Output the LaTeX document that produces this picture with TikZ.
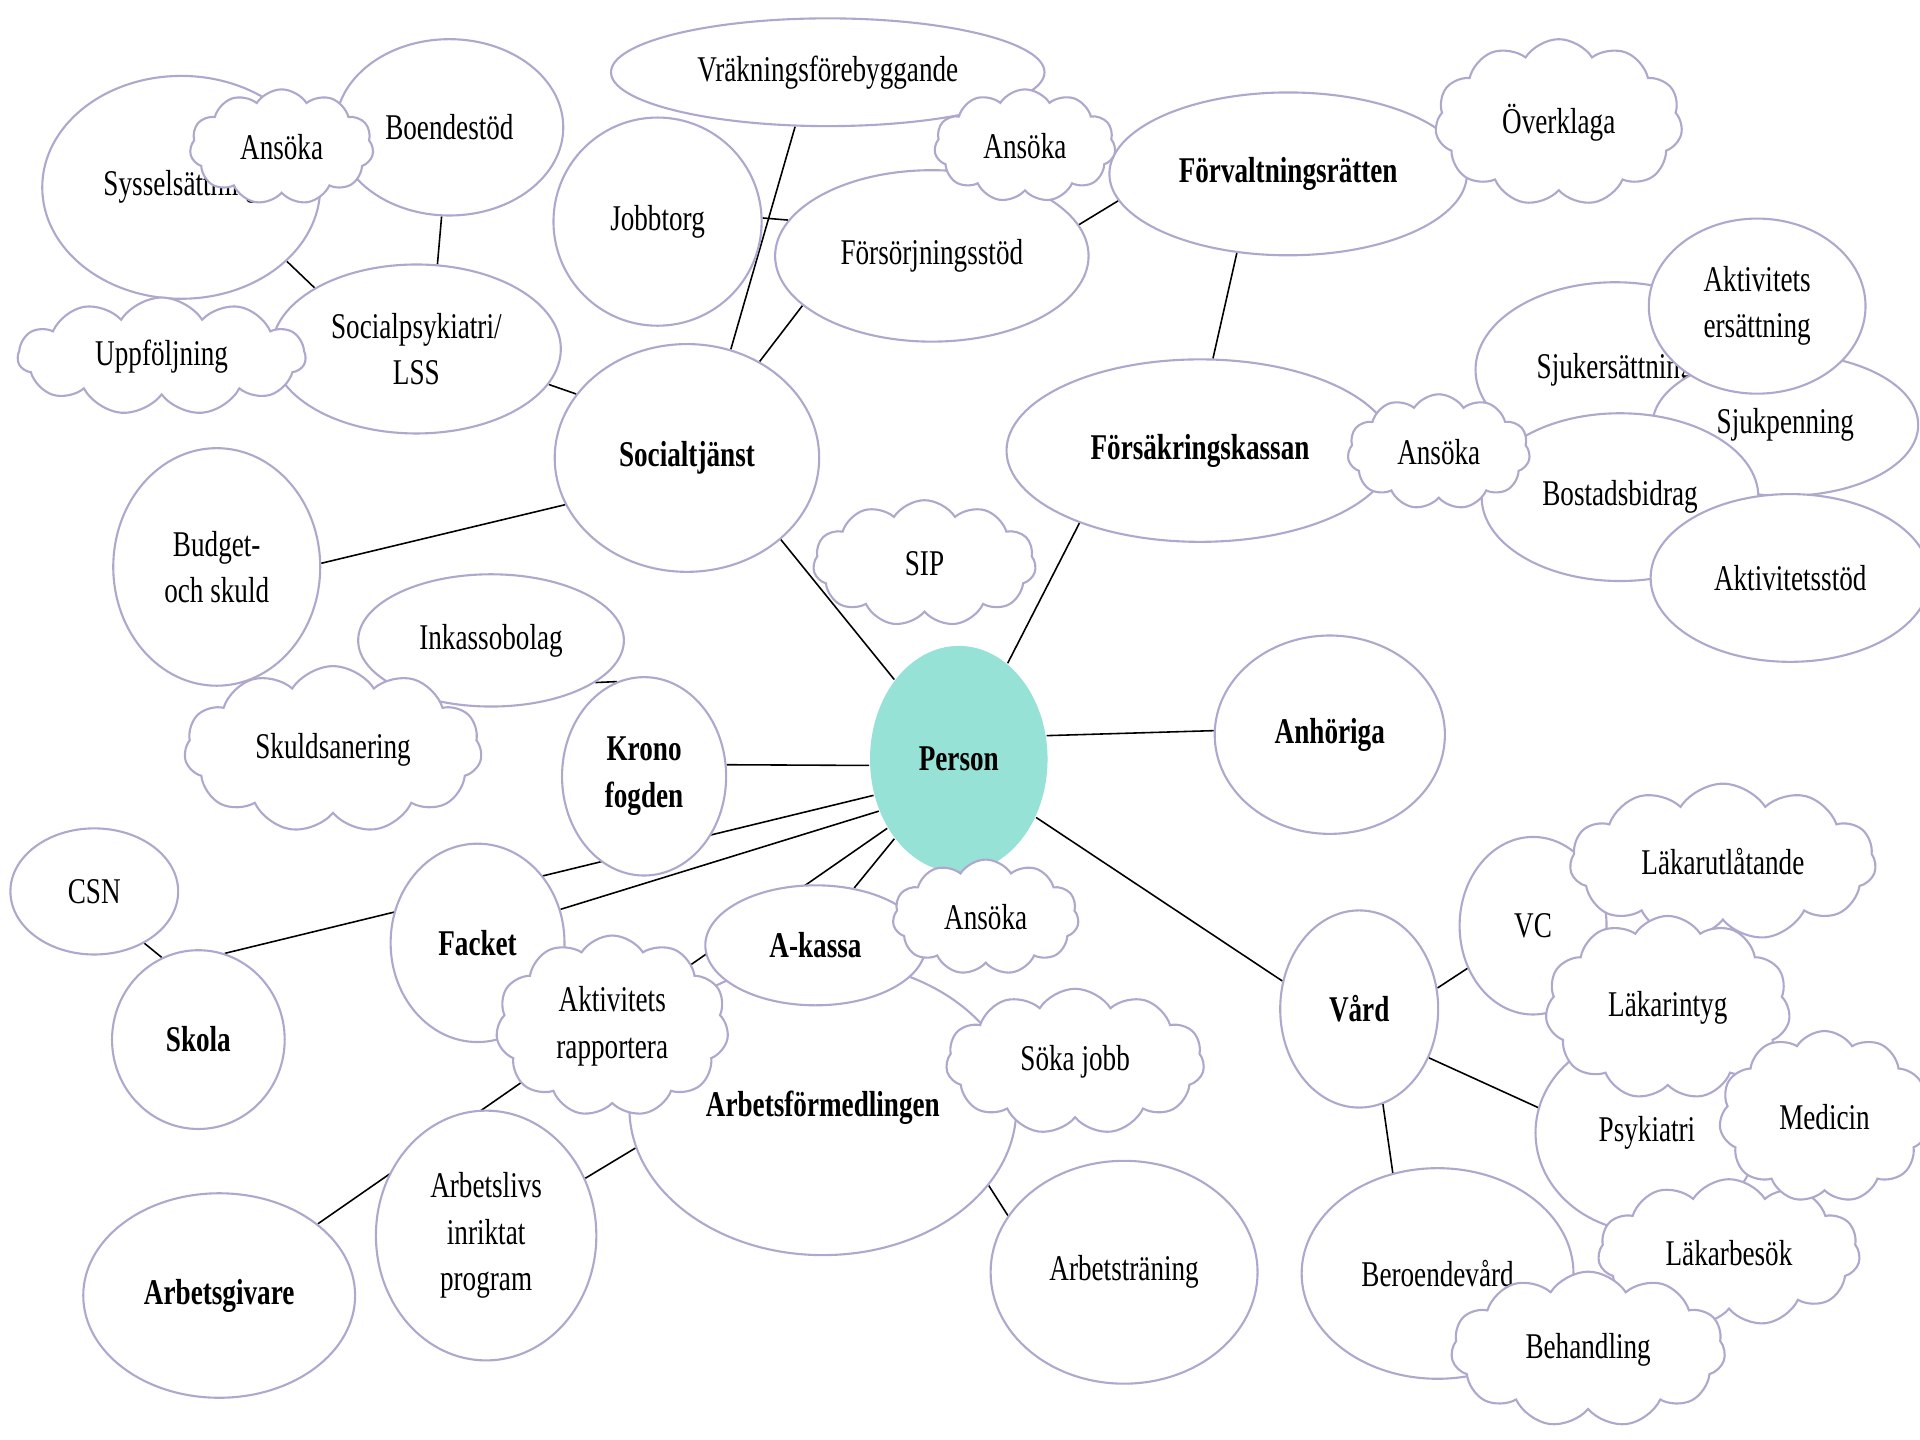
\documentclass[tikz,border=0pt]{standalone}
\usepackage{fontspec}
\setmainfont{Liberation Serif}[FakeStretch=0.75]
\usetikzlibrary{shapes.geometric,shapes.symbols,backgrounds}
\definecolor{rim}{RGB}{176,168,204}
\definecolor{personfill}{RGB}{150,226,214}

\begin{document}
\begin{tikzpicture}[x=0.012245cm, y=-0.012245cm,
        every node/.style={font=\fontsize{10.3}{13.2}\selectfont, align=center, inner sep=0pt},
        bubble/.style 2 args={ellipse, draw=rim, line width=0.6pt, fill=white,
            minimum width=#1*0.012245cm, minimum height=#2*0.012245cm},
        puff/.style 2 args={cloud, cloud puffs=11, cloud puff arc=115, draw=rim, line width=0.6pt,
            fill=white, /utils/exec={\pgfmathsetmacro\puffaspect{#1/#2}}, aspect=\puffaspect,
            minimum width=#1*0.012245cm, minimum height=#2*0.012245cm},
        boldtext/.style={font=\fontsize{10.3}{13.2}\selectfont\bfseries},
        link/.style={draw=black, line width=0.45pt}]
        \useasboundingbox (0,0) rectangle (1568,1176);

        \node[bubble={227}{182}] (syss) at (148,153) {Sysselsättning};
        \node[bubble={186}{144}] (boende) at (367,104) {Boendestöd};
        \node[puff={150}{94}] (ansoka1) at (230,120) {Ansöka};
        \node[bubble={236}{138}] (socpsyk) at (340,285) {Socialpsykiatri/\\LSS};
        \node[puff={235}{96}] (uppf) at (132,291) {Uppföljning};

        \node[bubble={354}{88}] (vrak) at (676,59) {Vräkningsförebyggande};
        \node[bubble={170}{170}] (jobb) at (537,181) {Jobbtorg};
        \node[bubble={256}{140}] (forsorj) at (761,209) {Försörjningsstöd};
        \node[bubble={292}{133}, boldtext] (forvalt) at (1052,142) {Förvaltningsrätten};
        \node[puff={148}{92}] (ansoka2) at (837,119) {Ansöka};
        \node[puff={202}{136}] (overkl) at (1273,100) {Överklaga};

        \node[bubble={216}{186}, boldtext] (soc) at (561,374) {Socialtjänst};
        \node[bubble={169}{194}] (budget) at (177,463) {Budget-\\och skuld};
        \node[puff={182}{103}] (sip) at (755,460) {SIP};

        \node[bubble={316}{149}, boldtext] (fk) at (980,368) {Försäkringskassan};
        \node[bubble={228}{143}] (sjukers) at (1319,302) {Sjukersättning};
        \node[bubble={217}{116}] (sjukpen) at (1458,347) {Sjukpenning};
        \node[bubble={177}{143}] (akters) at (1435,250) {Aktivitets\\ersättning};
        \node[bubble={226}{137}] (bostad) at (1323,406) {Bostadsbidrag};
        \node[bubble={228}{137}] (aktstod) at (1462,472) {Aktivitetsstöd};
        \node[puff={149}{94}] (ansoka3) at (1175,369) {Ansöka};

        \node[bubble={145}{185}, boldtext, draw=none, fill=personfill] (person) at (783,620) {Person};
        \node[bubble={188}{162}, boldtext] (anhor) at (1086,600) {Anhöriga};

        \node[bubble={217}{108}] (inkasso) at (401,523) {Inkassobolag};
        \node[puff={243}{136}] (skuld) at (272,612) {Skuldsanering};
        \node[bubble={134}{162}, boldtext] (krono) at (526,634) {Krono\\fogden};

        \node[bubble={137}{103}] (csn) at (77,728) {CSN};
        \node[bubble={141}{146}, boldtext] (skola) at (162,849) {Skola};
        \node[bubble={142}{162}, boldtext] (facket) at (390,770) {Facket};
        \node[bubble={316}{240}, boldtext] (arbf) at (672,905) {Arbetsförmedlingen};
        \node[puff={190}{148}] (aktrapp) at (500,838) {Aktivitets\\rapportera};
        \node[bubble={180}{98}, boldtext] (akassa) at (666,772) {A-kassa};
        \node[puff={152}{94}] (ansoka4) at (805,749) {Ansöka};
        \node[puff={211}{119}] (soka) at (878,867) {Söka jobb};
        \node[bubble={180}{204}] (arbliv) at (397,1009) {Arbetslivs\\inriktat\\program};
        \node[bubble={222}{167}, boldtext] (arbgiv) at (179,1058) {Arbetsgivare};
        \node[bubble={218}{182}] (arbtr) at (918,1039) {Arbetsträning};

        \node[bubble={129}{161}, boldtext] (vard) at (1110,824) {Vård};
        \node[bubble={120}{145}] (vc) at (1252,756) {VC};
        \node[puff={250}{128}] (lakutl) at (1407,704) {Läkarutlåtande};
        \node[bubble={182}{162}] (psyk) at (1345,925) {Psykiatri};
        \node[puff={200}{150}] (lakint) at (1362,823) {Läkarintyg};
        \node[puff={214}{120}] (lakbes) at (1412,1023) {Läkarbesök};
        \node[puff={172}{140}] (medicin) at (1490,912) {Medicin};
        \node[bubble={222}{172}] (beroende) at (1174,1040) {Beroendevård};
        \node[puff={224}{127}] (behandl) at (1297,1102) {Behandling};

        \begin{pgfonlayer}{background}
            \fill[white] (0,0) rectangle (1568,1176);
            \draw[link] (syss.325) -- (socpsyk.149);
            \draw[link] (boende.265) -- (socpsyk.76);
            \draw[link] (socpsyk.345) -- (soc.150);
            \draw[link] (vrak.239) -- (soc.68);
            \draw[link] (jobb.2) -- (forsorj.166);
            \draw[link] (forsorj.201) -- (soc.53);
            \draw[link] (forsorj.12) -- (forvalt.189);
            \draw[link] (forvalt.237) -- (fk.82);
            \draw[link] (budget.2) -- (soc.201);
            \draw[link] (soc.319) -- (person.129);
            \draw[link] (fk.211) -- (person.63);
            \draw[link] (person.15) -- (anhor.178);
            \draw[link] (inkasso.338) -- (krono.106);
            \draw[link] (krono.8) -- (person.184);
            \draw[link] (person.203) -- (skola.73);
            \draw[link] (person.213) -- (facket.22);
            \draw[link] (person.224) -- (arbgiv.36);
            \draw[link] (person.231) -- (akassa.56);
            \draw[link] (csn.314) -- (skola.114);
            \draw[link] (arbliv.30) -- (arbf.192);
            \draw[link] (arbf.335) -- (arbtr.154);
            \draw[link] (person.323) -- (vard.160);
            \draw[link] (vard.15) -- (vc.213);
            \draw[link] (vard.325) -- (psyk.167);
            \draw[link] (vard.284) -- (beroende.114);
        \end{pgfonlayer}
    \end{tikzpicture}
\end{document}
